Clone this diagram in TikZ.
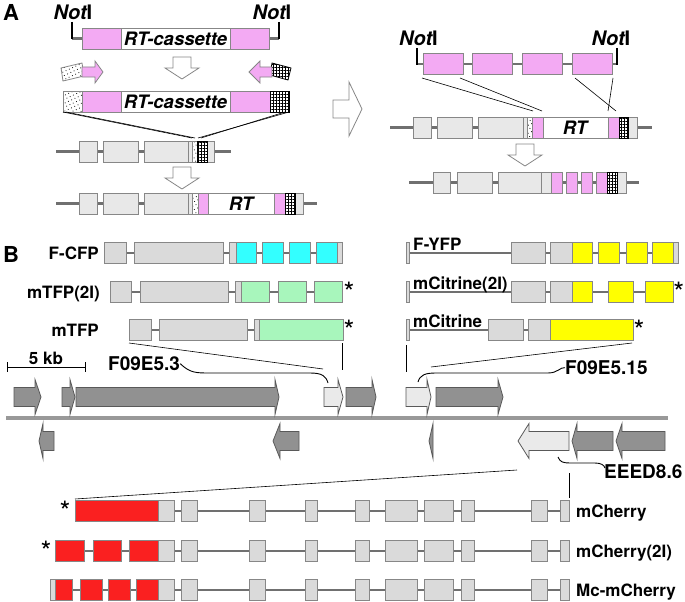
\documentclass[tikz,border=0pt]{standalone}
\usepackage{fontspec}
\setmainfont{TeX Gyre Heros}
\usetikzlibrary{patterns.meta}

\definecolor{pinkex}{RGB}{243,170,243}
\definecolor{boxgray}{RGB}{232,232,232}
\definecolor{exgray}{RGB}{218,218,218}
\definecolor{edgegray}{RGB}{135,135,135}
\definecolor{linegray}{RGB}{112,112,112}
\definecolor{cfpcyan}{RGB}{51,255,255}
\definecolor{tfpgreen}{RGB}{168,246,188}
\definecolor{yfpyellow}{RGB}{255,255,0}
\definecolor{chred}{RGB}{250,32,32}
\definecolor{chrgray}{RGB}{145,145,145}

\tikzset{
  exon/.style={draw=edgegray, line width=0.8pt, fill=#1},
  exon/.default=exgray,
  intron/.style={draw=linegray, line width=2.8pt},
  notline/.style={draw=black, line width=1.3pt},
  dotblock/.style={draw=edgegray, line width=0.8pt, preaction={fill=white},
    pattern={Dots[distance=3.6pt, radius=0.55pt, angle=25]}},
  gridblock/.style={draw=black, line width=0.8pt, preaction={fill=white},
    pattern={Hatch[angle=0, distance=3pt, line width=1pt]}},
  hollow/.style={draw=edgegray, line width=0.8pt, fill=white},
  chrarrow/.style={draw=black!65, line width=0.8pt, fill=#1},
  chrarrow/.default=chrgray,
  zoomline/.style={draw=black, line width=0.6pt},
  panel/.style={font=\bfseries\fontsize{22}{24}\selectfont, inner sep=0pt},
  lbl/.style={font=\bfseries\fontsize{17}{19}\selectfont, inner sep=0pt},
  star/.style={font=\fontsize{28}{30}\selectfont, inner sep=0pt},
  tag/.style={font=\bfseries\fontsize{19}{21}\selectfont, inner sep=0pt},
  enz/.style={font=\bfseries\fontsize{20}{22}\selectfont, inner sep=0pt},
  cas/.style={font=\bfseries\itshape\fontsize{18.5}{20}\selectfont, inner sep=0pt}
}

% exons of one row: colour, centre line, list of left/right edges
\newcommand{\exonrow}[3][exgray]{%
  \foreach \a/\b in {#3} \draw[exon=#1] (\a,#2-10.5) rectangle (\b,#2+10.5);}
% hollow arrow pointing down: centre x, top y
\newcommand{\hollowdown}[2]{%
  \draw[hollow] (#1-9,#2) -- (#1+9,#2) -- (#1+9,#2+11) -- (#1+17,#2+11)
    -- (#1,#2+22) -- (#1-17,#2+11) -- (#1-9,#2+11) -- cycle;}
% gene arrow on the chromosome: style, tail x, head x, tip x, top y
\newcommand{\genearrow}[5]{%
  \draw[#1] (#2,#5) -- (#3,#5) -- (#3,#5-8) -- (#4,#5+9.5) -- (#3,#5+27)
    -- (#3,#5+19) -- (#2,#5+19) -- cycle;}

\begin{document}
\begin{tikzpicture}[x=1pt,y=-1pt]
\useasboundingbox (0,0) rectangle (685,602);

%% Panel A
\node[panel] (pA) at (11,12) {A};

% cassette with NotI ends
\node[enz] (not1) at (73,12) {\itshape Not\upshape I};
\node[enz] (not2) at (272,12) {\itshape Not\upshape I};
\draw[intron] (72,38.5) -- (82,38.5);
\draw[intron] (269,38.5) -- (279,38.5);
\draw[notline] (72,22) -- (72,39.5);
\draw[notline] (279,22) -- (279,39.5);
\draw[exon=pinkex] (82,28) rectangle (121,49);
\draw[exon=white] (121,28) rectangle (230,49);
\draw[exon=pinkex] (230,28) rectangle (269,49);
\node[cas] (cas1) at (175.5,38.5) {RT-cassette};

% homology arms
\draw[dotblock] (61,68) -- (82,63) -- (84,76) -- (63,81) -- cycle;
\draw[exon=pinkex] (82,67) -- (95,67) -- (95,61) -- (103,72) -- (95,83) -- (95,77) -- (82,77) -- cycle;
\draw[gridblock] (272,63) -- (291,68) -- (288,80) -- (270,75) -- cycle;
\draw[exon=pinkex] (272,67) -- (260,67) -- (260,61) -- (249,72) -- (260,83) -- (260,77) -- (272,77) -- cycle;
\hollowdown{182}{57}

% repair template
\draw[dotblock] (63,91) rectangle (82,112);
\draw[exon=pinkex] (82,91) rectangle (121,112);
\draw[exon=white] (121,91) rectangle (230,112);
\draw[exon=pinkex] (230,91) rectangle (270,112);
\draw[gridblock] (270,91) rectangle (289,112);
\node[cas] (cas2) at (175.5,101.5) {RT-cassette};

\draw[zoomline] (63,112) -- (192,138);
\draw[zoomline] (66,112) -- (195,138);
\draw[zoomline] (289,112) -- (198,138);
\draw[zoomline] (285,112) -- (201,138);

% genomic locus
\draw[intron, line width=3.2pt] (56,151.5) -- (231,151.5);
\exonrow[boxgray]{151.5}{79/97, 103/138, 144/188, 188/192, 207/214}
\draw[dotblock] (192,141) rectangle (197,162);
\draw[gridblock] (197,141) rectangle (207,162);
\hollowdown{182}{167}

% edited locus
\draw[intron, line width=3.2pt] (56,203.5) -- (317,203.5);
\exonrow[boxgray]{203.5}{79/97, 103/138, 144/188, 188/192, 295/303}
\draw[dotblock] (192,193) rectangle (198,214);
\exonrow[pinkex]{203.5}{198/208, 274/285}
\draw[exon=white] (208,193) rectangle (274,214);
\draw[gridblock] (285,193) rectangle (295,214);
\node[cas] (rt1) at (241,203.5) {RT};

% big arrow
\draw[hollow] (333,100) -- (349,100) -- (349,82) -- (362,109) -- (349,136)
  -- (349,118) -- (333,118) -- cycle;

% tag fragment with NotI ends
\node[enz] (not3) at (418.5,38) {\itshape Not\upshape I};
\node[enz] (not4) at (611,38) {\itshape Not\upshape I};
\draw[intron] (417,64) -- (617,64);
\draw[notline] (417,48) -- (417,65);
\draw[notline] (617,48) -- (617,65);
\exonrow[pinkex]{64}{423/463, 472/512, 522/562, 572/612}

\draw[zoomline] (422,78) -- (533,111);
\draw[zoomline] (460,78) -- (542,111);
\draw[zoomline] (575,78) -- (616,111);
\draw[zoomline] (613,78) -- (608,111);

% locus with RT
\draw[intron, line width=3.2pt] (390,127.5) -- (652,127.5);
\exonrow[boxgray]{127.5}{413/431, 437/472, 478/523, 523/527, 628/637}
\draw[dotblock] (527,117) rectangle (532,138);
\exonrow[pinkex]{127.5}{532/543, 608/619}
\draw[exon=white] (543,117) rectangle (608,138);
\draw[gridblock] (619,117) rectangle (628,138);
\node[cas] (rt2) at (575,127.5) {RT};
\hollowdown{525}{144}

% final tagged locus
\draw[intron, line width=3.2pt] (409,182.5) -- (639,182.5);
\exonrow[boxgray]{182.5}{433/450, 457/492, 498/541, 541/551, 617/626}
\exonrow[pinkex]{182.5}{551/562, 566/577, 581/592, 596/607}
\draw[gridblock] (607,172) rectangle (617,193);

%% Panel B
\node[panel] (pB) at (11,254) {B};

% alleles of F09E5.3
\node[lbl, anchor=base east] (cfp) at (99,259) {F-CFP};
\draw[intron] (104,253) -- (342,253);
\exonrow{253}{104/126, 134/223, 229/236, 337/342}
\exonrow[cfpcyan]{253}{236/256, 262/283, 289/310, 316/337}

\node[lbl, anchor=base east] (tfp2) at (100,298) {mTFP(2I)};
\draw[intron] (110,292) -- (342,292);
\exonrow{292}{110/131, 140/228, 235/241}
\exonrow[tfpgreen]{292}{241/269, 278/306, 314/342}
\node[star] (st1) at (349,292) {*};

\node[lbl, anchor=base east] (tfp) at (99,336) {mTFP};
\draw[intron] (129,330) -- (343,330);
\exonrow{330}{129/151, 159/247, 254/259}
\exonrow[tfpgreen]{330}{259/343}
\node[star] (st2) at (349,330) {*};

% alleles of F09E5.15
\draw[intron] (409,253) -- (678,253);
\exonrow{253}{406/409, 511/545, 550/572, 673/678}
\exonrow[yfpyellow]{253}{572/592, 598/619, 626/647, 652/673}
\node[lbl, anchor=base west] (yfp) at (413,250.5) {F-YFP};

\draw[intron] (409,292) -- (673,292);
\exonrow{292}{406/409, 511/545, 550/572}
\exonrow[yfpyellow]{292}{572/592, 608/633, 645/673}
\node[lbl, anchor=base west] (cit2) at (413,289.5) {mCitrine(2I)};
\node[star, anchor=east] (st3) at (684.5,292) {*};

\draw[intron] (409,330) -- (633,330);
\exonrow{330}{406/409, 488/523, 528/550}
\exonrow[yfpyellow]{330}{550/633}
\node[lbl, anchor=base west] (cit) at (413,327.5) {mCitrine};
\node[star] (st4) at (639,330) {*};

% zoom lines to the chromosome
\draw[zoomline] (129,343) -- (323,369);
\draw[zoomline] (342,343) -- (342,370);
\draw[zoomline] (406,345) -- (406,372);
\draw[zoomline] (632,343) -- (431,367);

% scale bar
\node[lbl, anchor=base] (kb) at (46,364) {5 kb};
\draw[line width=0.9pt] (7,367) -- (85,367);
\draw[line width=0.9pt] (7,362) -- (7,372);
\draw[line width=0.9pt] (85,362) -- (85,372);

% gene names
\node[tag, anchor=base west] (g53) at (108,370.5) {F09E5.3};
\draw[line width=0.9pt] (g53.east) .. controls (190,373) and (196,373) .. (210,373)
  -- (310,373) .. controls (322,373) and (326,376) .. (328,383);
\node[tag, anchor=base west] (g515) at (565,374.5) {F09E5.15};
\draw[line width=0.9pt] (418,382) .. controls (420,375) and (425,373) .. (436,373)
  -- (548,373) .. controls (558,373) and (560,367) .. (g515.west);

% chromosome
\draw[draw=black!40, line width=4pt] (6,418) -- (668,418);
\genearrow{chrarrow}{14}{35}{41}{387.5}
\genearrow{chrarrow}{62}{70}{75}{387.5}
\genearrow{chrarrow}{76}{275}{279}{387.5}
\genearrow{chrarrow=boxgray!90}{324}{338}{343}{387.5}
\genearrow{chrarrow}{346}{372}{376}{387.5}
\genearrow{chrarrow=boxgray!90}{406}{427}{431}{387.5}
\genearrow{chrarrow}{436}{498}{503}{387.5}
\genearrow{chrarrow}{54}{43}{39}{431.5}
\genearrow{chrarrow}{299}{280}{273}{431.5}
\draw[chrarrow] (433,423.5) -- (429,441) -- (433,458.5) -- cycle;
\genearrow{chrarrow=boxgray!90}{569}{529}{518}{431.5}
\genearrow{chrarrow}{613}{577}{572}{431.5}
\genearrow{chrarrow}{665}{622}{616}{431.5}

\node[tag, anchor=base west] (g86) at (604,478) {EEED8.6};
\draw[line width=0.9pt] (558,457) .. controls (560,462) and (563,463) .. (570,463)
  -- (595,463) .. controls (601,463) and (604,465) .. (605,468);

% alleles of EEED8.6
\draw[zoomline] (517,470) -- (75,499);
\draw[zoomline] (569,473) -- (569,498);

\draw[intron] (75,511) -- (569,511);
\exonrow[chred]{511}{75/158}
\exonrow{511}{158/174, 181/197, 249/265, 305/317, 355/369, 385/417, 424/453, 461/474, 531/547, 560/569}
\node[star] (st5) at (65,511) {*};
\node[lbl, anchor=base west] (ch) at (576,517) {mCherry};

\draw[intron] (55,551) -- (569,551);
\exonrow[chred]{551}{55/84, 93/121, 129/158}
\exonrow{551}{158/174, 181/197, 249/265, 305/317, 355/369, 385/417, 424/453, 461/474, 531/547, 560/569}
\node[star] (st6) at (46,551) {*};
\node[lbl, anchor=base west] (ch2) at (576,557) {mCherry(2I)};

\draw[intron] (50,590) -- (569,590);
\exonrow{590}{50/55}
\exonrow[chred]{590}{55/72, 80/102, 108/130, 136/158}
\exonrow{590}{158/174, 181/197, 249/265, 305/317, 355/369, 385/417, 424/453, 461/474, 531/547, 560/569}
\node[lbl, anchor=base west] (mch) at (576,596) {Mc-mCherry};

\end{tikzpicture}
\end{document}
